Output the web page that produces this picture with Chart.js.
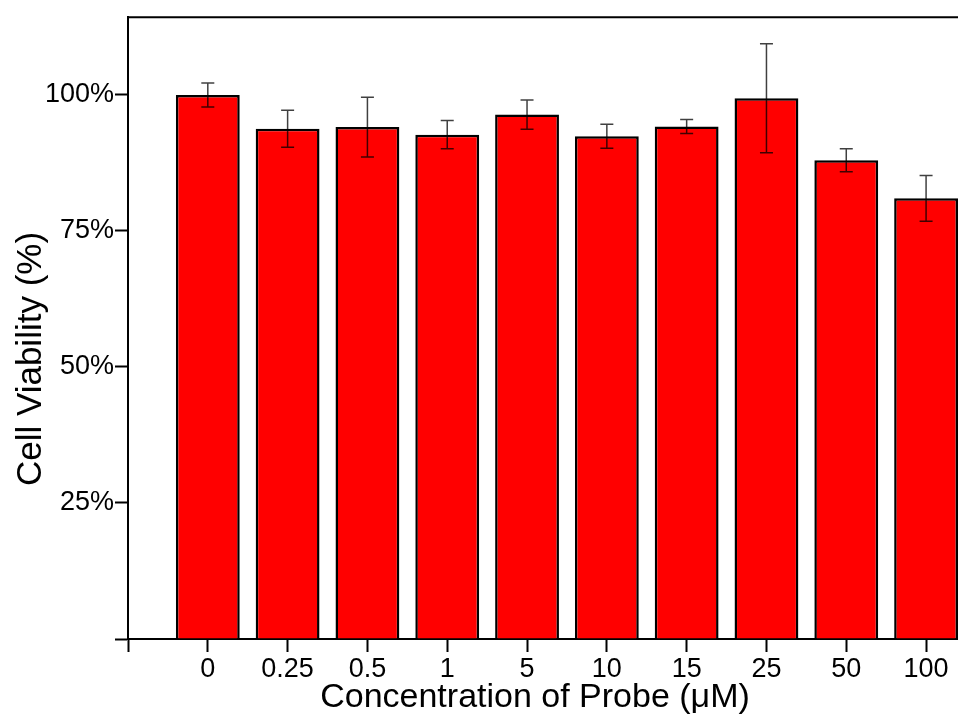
<!DOCTYPE html>
<html>
<head>
<meta charset="utf-8">
<script src="https://cdn.jsdelivr.net/npm/chart.js@4"></script>
<style>
  html, body { margin: 0; padding: 0; background: #fff; overflow: hidden; }
  #wrap { width: 958px; height: 716px; position: relative; }
</style>
</head>
<body>
<div id="wrap"><canvas id="barChart"></canvas></div>
<script>
// ======================= DATA =======================
const concentrations = ["0", "0.25", "0.5", "1", "5", "10", "15", "25", "50", "100"];
const viability = [100.0, 93.8, 94.1, 92.7, 96.4, 92.4, 94.2, 99.4, 88.0, 81.0];
const errors = [2.2, 3.4, 5.5, 2.6, 2.7, 2.2, 1.3, 10.0, 2.1, 4.2];
const yTicks = [0, 25, 50, 75, 100];

const FONT = "'Liberation Sans', Arial, sans-serif";

// error bars + top frame line + axis titles
const extras = {
  id: "extras",
  afterDatasetsDraw(chart) {
    const { ctx, scales: { x, y } } = chart;
    ctx.save();
    ctx.strokeStyle = "rgba(0,0,0,0.75)";
    ctx.lineWidth = 1.5;
    viability.forEach((v, i) => {
      const px = x.getPixelForValue(i);
      const top = y.getPixelForValue(v + errors[i]);
      const bot = y.getPixelForValue(v - errors[i]);
      ctx.beginPath();
      ctx.moveTo(px, top); ctx.lineTo(px, bot);
      ctx.moveTo(px - 6.5, top); ctx.lineTo(px + 6.5, top);
      ctx.moveTo(px - 6.5, bot); ctx.lineTo(px + 6.5, bot);
      ctx.stroke();
    });
    ctx.restore();
  },
  afterDraw(chart) {
    const { ctx, chartArea } = chart;
    ctx.save();
    ctx.strokeStyle = "#000";
    ctx.lineWidth = 2;
    ctx.beginPath();
    ctx.moveTo(chartArea.left - 1, chartArea.top);
    ctx.lineTo(chart.width, chartArea.top);
    ctx.stroke();

    ctx.fillStyle = "#000";
    ctx.textAlign = "center";
    ctx.textBaseline = "alphabetic";
    ctx.font = "34px " + FONT;
    ctx.fillText("Concentration of Probe (μM)", 535, 707);

    ctx.font = "35px " + FONT;
    ctx.translate(41, 359);
    ctx.rotate(-Math.PI / 2);
    ctx.fillText("Cell Viability (%)", 0, 0);
    ctx.restore();
  },
};

// ======================= BAR CHART =======================
new Chart(document.getElementById("barChart"), {
  type: "bar",
  data: {
    datasets: [
      {
        data: viability.map((v, i) => ({ x: i, y: v })),
        backgroundColor: "#ff0000",
        borderColor: "#000",
        borderWidth: 2.5,
        categoryPercentage: 1,
        barPercentage: 0.8,
      },
    ],
  },
  options: {
    responsive: true,
    maintainAspectRatio: false,
    animation: false,
    layout: { padding: { left: 0, right: 0, top: 15, bottom: 0 } },
    plugins: { legend: { display: false }, tooltip: { enabled: false } },
    scales: {
      x: {
        type: "linear",
        min: -1,
        max: 9.4,
        offset: false,
        afterBuildTicks: (s) => {
          s.ticks = [-1, ...concentrations.map((_, i) => i)].map((v) => ({ value: v }));
        },
        afterFit: (s) => { s.height = 77; },
        ticks: {
          callback: (v) => concentrations[v] ?? "",
          color: "#000",
          font: { family: FONT, size: 27 },
          padding: 1,
          maxRotation: 0,
          autoSkip: false,
        },
        grid: { offset: false, drawOnChartArea: false, tickLength: 13, tickWidth: 2, tickColor: "#000" },
        border: { color: "#000", width: 2 },
      },
      y: {
        min: 0,
        max: 114.3,
        afterBuildTicks: (s) => {
          s.ticks = yTicks.map((v) => ({ value: v }));
        },
        afterFit: (s) => { s.width = 128; },
        ticks: {
          callback: (v) => (v === 0 ? "" : v + "%"),
          color: "#000",
          font: { family: FONT, size: 27 },
          padding: 1,
        },
        grid: { drawOnChartArea: false, tickLength: 13, tickWidth: 2, tickColor: "#000" },
        border: { color: "#000", width: 2 },
      },
    },
  },
  plugins: [extras],
});
</script>
</body>
</html>
